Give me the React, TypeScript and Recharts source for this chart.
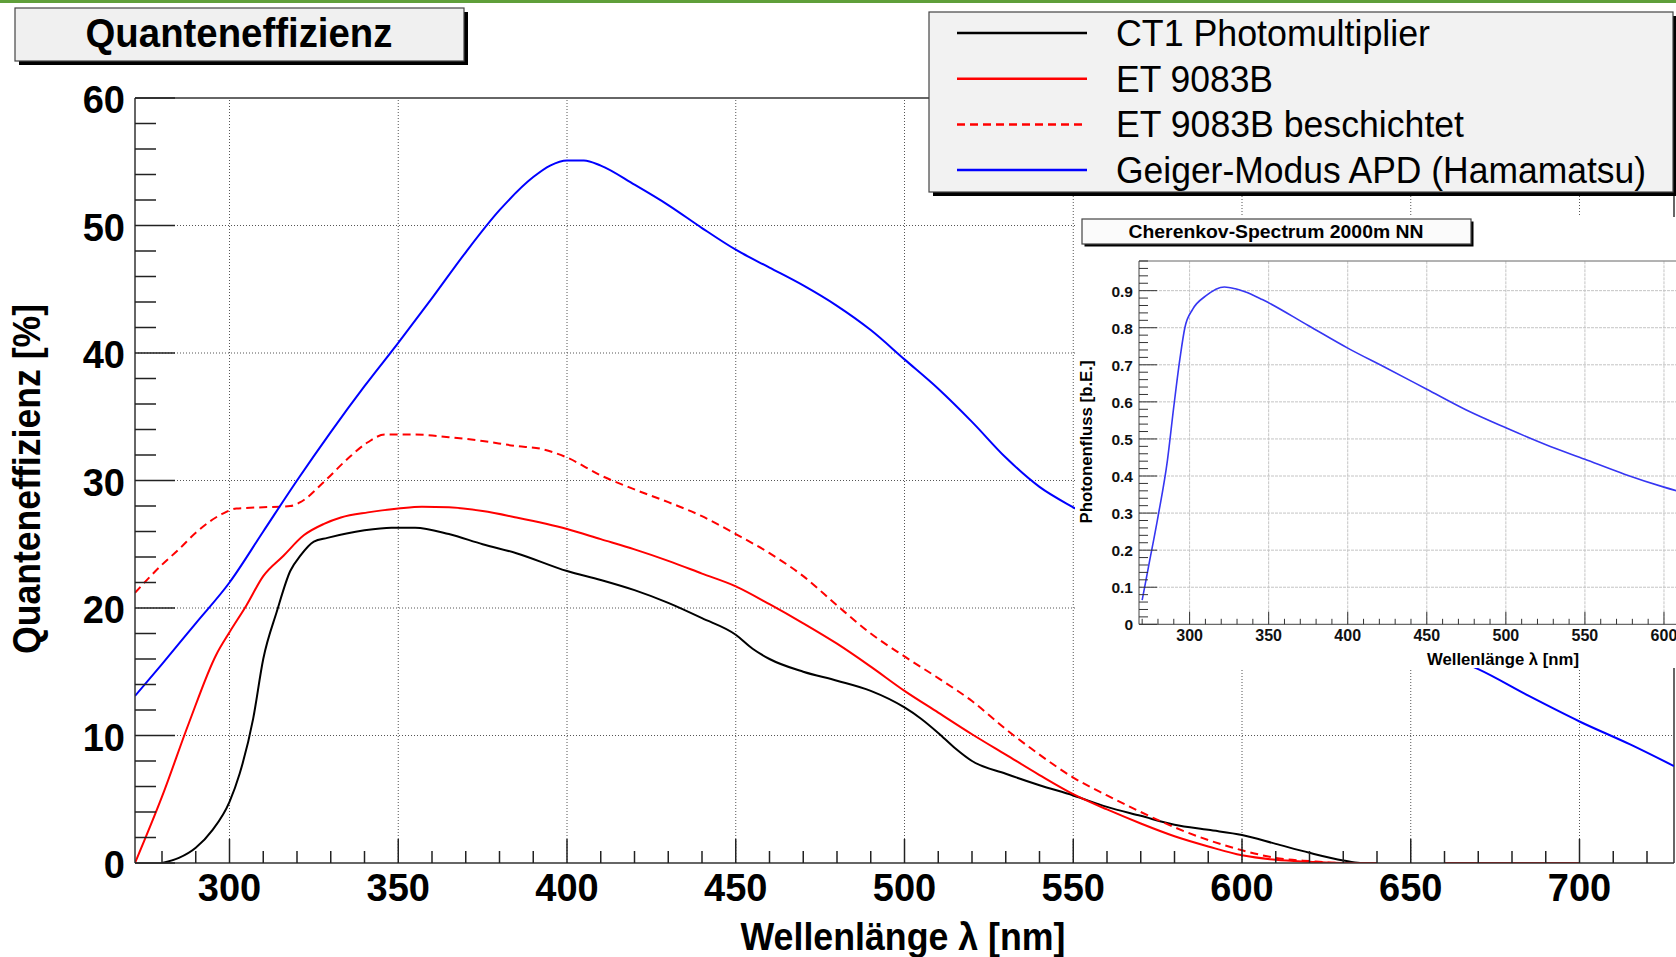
import React from 'react';
import { Line, LineChart, ReferenceLine, XAxis, YAxis } from 'recharts';

const FONT = '"Liberation Sans", Arial, Helvetica, sans-serif';

// Quanteneffizienz [%] gegen Wellenlänge [nm]
const ct1Nm = [280, 285, 290, 295, 300, 303, 307, 310, 314, 318, 321, 325, 329, 340, 348, 355, 365, 375, 385, 400, 410, 420, 430, 440, 450, 455, 460, 470, 480, 490, 500, 505, 510, 515, 520, 530, 540, 550, 560, 570, 580, 590, 600, 610, 620, 630, 635, 640, 650, 660, 700];
const ct1Qe = [0, 0.4, 1.2, 2.6, 4.8, 7.0, 11.3, 16.0, 19.7, 22.9, 24.1, 25.2, 25.5, 26.1, 26.3, 26.3, 25.8, 25.0, 24.3, 22.9, 22.2, 21.4, 20.4, 19.2, 17.9, 16.8, 16.0, 15.0, 14.3, 13.5, 12.2, 11.3, 10.2, 9.0, 8.0, 7.0, 6.1, 5.3, 4.4, 3.7, 3.0, 2.6, 2.2, 1.5, 0.8, 0.2, 0, 0, null, 0, 0];

const etNm = [272, 280, 288, 296, 300, 305, 310, 316, 322, 328, 333, 341, 350, 357, 365, 375, 385, 400, 410, 420, 430, 440, 450, 460, 470, 480, 490, 500, 510, 520, 530, 540, 550, 560, 570, 580, 590, 600, 610, 620, 630, 640, 650, 660, 700];
const etQe = [0, 5.2, 11.0, 16.3, 18.1, 20.2, 22.5, 24.1, 25.7, 26.6, 27.1, 27.5, 27.8, 27.95, 27.9, 27.6, 27.1, 26.2, 25.4, 24.6, 23.7, 22.7, 21.7, 20.3, 18.8, 17.2, 15.4, 13.5, 11.8, 10.1, 8.5, 6.9, 5.4, 4.2, 3.1, 2.1, 1.3, 0.6, 0.25, 0.1, 0, 0, null, 0, 0];

const etCoatedNm = [272, 280, 285, 290, 298, 302, 310, 318, 321, 328, 335, 341, 346, 355, 365, 375, 385, 392, 400, 410, 420, 430, 440, 450, 460, 470, 480, 490, 500, 510, 520, 530, 540, 550, 560, 570, 580, 590, 600, 610, 620, 630, 640, 650, 660, 700];
const etCoatedQe = [21.2, 23.4, 24.6, 25.9, 27.4, 27.8, 27.9, 28.0, 28.3, 29.9, 31.7, 33.0, 33.6, 33.6, 33.4, 33.1, 32.7, 32.5, 31.8, 30.4, 29.3, 28.3, 27.2, 25.8, 24.3, 22.5, 20.2, 18.0, 16.2, 14.5, 12.7, 10.5, 8.5, 6.7, 5.3, 4.0, 2.8, 1.8, 1.0, 0.4, 0.15, 0, 0, null, 0, 0];

const apdNm = [272, 280, 290, 300, 310, 320, 330, 340, 350, 360, 370, 380, 390, 395, 400, 405, 410, 420, 430, 440, 450, 460, 470, 480, 490, 500, 510, 520, 530, 540, 550, 560, 580, 600, 620, 640, 660, 670, 685, 700, 715, 728];
const apdQe = [13.1, 15.6, 18.8, 22.0, 26.0, 30.0, 33.8, 37.4, 40.8, 44.3, 47.9, 51.2, 53.8, 54.7, 55.1, 55.1, 54.7, 53.2, 51.6, 49.8, 48.1, 46.7, 45.3, 43.7, 41.8, 39.5, 37.2, 34.6, 31.8, 29.5, 27.9, 26.5, 23.8, 21.4, 19.5, 17.8, 16.3, 15.2, 13.1, 11.1, 9.3, 7.6];

// Cherenkov-Spektrum (Einsatz)
const cherNm = [270, 274, 280, 286, 290, 294, 297, 302, 310, 322, 329, 335, 346, 375, 400, 425, 450, 475, 500, 525, 550, 575, 600, 625];
const cherFlux = [0.065, 0.155, 0.29, 0.443, 0.587, 0.72, 0.8, 0.85, 0.885, 0.91, 0.905, 0.897, 0.876, 0.806, 0.745, 0.69, 0.634, 0.578, 0.53, 0.485, 0.445, 0.405, 0.37, 0.34];

const xMajor = [300, 350, 400, 450, 500, 550, 600, 650, 700];
const yMajor = [0, 10, 20, 30, 40, 50, 60];
const yGrid = [10, 20, 30, 40, 50];
const insetXMajor = [300, 350, 400, 450, 500, 550, 600];
const insetYMajor = [0, 0.1, 0.2, 0.3, 0.4, 0.5, 0.6, 0.7, 0.8, 0.9];
const insetYLabels = ['0', '0.1', '0.2', '0.3', '0.4', '0.5', '0.6', '0.7', '0.8', '0.9'];

const range = (a: number, b: number, s: number) => {
  const out: number[] = [];
  for (let v = a; v <= b + 1e-9; v += s) out.push(+v.toFixed(3));
  return out;
};
const zip = (xs: number[], ys: (number | null)[]) => xs.map((x, i) => ({ x, y: ys[i] }));

const series = [
  { name: 'CT1 Photomultiplier', color: '#000000', dash: undefined, data: zip(ct1Nm, ct1Qe) },
  { name: 'ET 9083B', color: '#ff0000', dash: undefined, data: zip(etNm, etQe) },
  { name: 'ET 9083B beschichtet', color: '#ff0000', dash: '8 5', data: zip(etCoatedNm, etCoatedQe) },
  { name: 'Geiger-Modus APD (Hamamatsu)', color: '#0000ff', dash: undefined, data: zip(apdNm, apdQe) },
];
const legendWidths = [314, 157, 348, 530];

const isMajor = (v: number, list: number[]) => list.some((m) => Math.abs(m - v) < 1e-6);

function MainXTick(p: any) {
  const v = p.payload.value;
  const major = isMajor(v, xMajor);
  return (
    <g>
      <line x1={p.x} x2={p.x} y1={p.y} y2={p.y - (major ? 24 : 12)} stroke="#222" strokeWidth={1.5} />
      {major && (
        <text x={p.x} y={p.y + 38} textAnchor="middle" fontFamily={FONT} fontWeight="bold" fontSize={38} fill="#000">
          {v}
        </text>
      )}
    </g>
  );
}

function MainYTick(p: any) {
  const v = p.payload.value;
  const major = isMajor(v, yMajor);
  return (
    <g>
      <line x1={p.x} x2={p.x + (major ? 40 : 21)} y1={p.y} y2={p.y} stroke="#222" strokeWidth={1.5} />
      {major && (
        <text x={p.x - 10} y={p.y + 15} textAnchor="end" fontFamily={FONT} fontWeight="bold" fontSize={38} fill="#000">
          {v}
        </text>
      )}
    </g>
  );
}

function InsetXTick(p: any) {
  const v = p.payload.value;
  const major = isMajor(v, insetXMajor);
  return (
    <g>
      <line x1={p.x} x2={p.x} y1={p.y} y2={p.y - (major ? 12.5 : 5.5)} stroke="#333" strokeWidth={1} />
      {major && (
        <text x={p.x} y={p.y + 17} textAnchor="middle" fontFamily={FONT} fontWeight="bold" fontSize={16} fill="#111">
          {v}
        </text>
      )}
    </g>
  );
}

function InsetYTick(p: any) {
  const v = p.payload.value;
  const idx = insetYMajor.findIndex((m) => Math.abs(m - v) < 1e-6);
  const major = idx >= 0;
  return (
    <g>
      <line x1={p.x} x2={p.x + (major ? 18 : 9)} y1={p.y} y2={p.y} stroke="#333" strokeWidth={1} />
      {major && (
        <text x={p.x - 6} y={p.y + 6} textAnchor="end" fontFamily={FONT} fontWeight="bold" fontSize={15.5} fill="#111">
          {insetYLabels[idx]}
        </text>
      )}
    </g>
  );
}

function Box({ x, y, w, h, shadow, fill }: { x: number; y: number; w: number; h: number; shadow: number; fill: string }) {
  return (
    <g>
      <rect x={x + shadow} y={y + shadow} width={w} height={h} fill="#000" />
      <rect x={x} y={y} width={w} height={h} fill={fill} stroke="#444" strokeWidth={1.2} />
    </g>
  );
}

export default function App() {
  return (
    <div
      style={{
        position: 'absolute',
        left: 0,
        top: 0,
        width: 1676,
        height: 957,
        overflow: 'hidden',
        background: '#fff',
        fontFamily: FONT,
      }}
    >
      <div style={{ position: 'absolute', left: 0, top: 0, width: 1676, height: 2.5, background: '#5f9f3a' }} />

      <div style={{ position: 'absolute', left: 0, top: 0 }}>
        <LineChart width={1676} height={957} margin={{ top: 98, right: 2, left: 0, bottom: 0 }}>
          <XAxis
            dataKey="x"
            type="number"
            domain={[272, 728]}
            allowDataOverflow
            ticks={range(280, 720, 10)}
            interval={0}
            height={94}
            tickSize={0}
            tickMargin={0}
            tickLine={false}
            axisLine={{ stroke: '#333', strokeWidth: 1.5 }}
            tick={(p: any) => <MainXTick {...p} />}
          />
          <YAxis
            type="number"
            domain={[0, 60]}
            allowDataOverflow
            ticks={range(0, 60, 2)}
            interval={0}
            width={135}
            tickSize={0}
            tickMargin={0}
            tickLine={false}
            axisLine={{ stroke: '#333', strokeWidth: 1.5 }}
            tick={(p: any) => <MainYTick {...p} />}
          />
          {xMajor.map((v) => (
            <ReferenceLine key={'gx' + v} x={v} stroke="#555" strokeWidth={1} strokeDasharray="1 2" />
          ))}
          {yGrid.map((v) => (
            <ReferenceLine key={'gy' + v} y={v} stroke="#555" strokeWidth={1} strokeDasharray="1 2" />
          ))}
          <ReferenceLine y={60} stroke="#333" strokeWidth={1.5} />
          <ReferenceLine x={728} stroke="#333" strokeWidth={1.5} />
          {series.map((s) => (
            <Line
              key={s.name}
              data={s.data}
              dataKey="y"
              type="monotone"
              stroke={s.color}
              strokeWidth={2}
              strokeDasharray={s.dash}
              dot={false}
              activeDot={false}
              connectNulls={false}
              isAnimationActive={false}
            />
          ))}
        </LineChart>
      </div>

      {/* Einsatz: Cherenkov-Spektrum */}
      <div style={{ position: 'absolute', left: 1075, top: 217, width: 640, height: 451, background: '#fff' }}>
        <LineChart width={640} height={451} margin={{ top: 44, right: 11.5, left: 0, bottom: 0 }}>
          <XAxis
            dataKey="x"
            type="number"
            domain={[268, 625]}
            allowDataOverflow
            ticks={range(270, 620, 10)}
            interval={0}
            height={43.7}
            tickSize={0}
            tickMargin={0}
            tickLine={false}
            axisLine={{ stroke: '#444', strokeWidth: 1 }}
            tick={(p: any) => <InsetXTick {...p} />}
          />
          <YAxis
            type="number"
            domain={[0, 0.98]}
            allowDataOverflow
            ticks={range(0, 0.98, 0.02)}
            interval={0}
            width={64}
            tickSize={0}
            tickMargin={0}
            tickLine={false}
            axisLine={{ stroke: '#444', strokeWidth: 1 }}
            tick={(p: any) => <InsetYTick {...p} />}
          />
          {insetXMajor.map((v) => (
            <ReferenceLine key={'ix' + v} x={v} stroke="#c4c4c4" strokeWidth={1} strokeDasharray="3 1" />
          ))}
          {insetYMajor.slice(1).map((v) => (
            <ReferenceLine key={'iy' + v} y={v} stroke="#c4c4c4" strokeWidth={1} strokeDasharray="3 1" />
          ))}
          <ReferenceLine y={0.98} stroke="#666" strokeWidth={1} />
          <Line
            data={zip(cherNm, cherFlux)}
            dataKey="y"
            type="monotone"
            stroke="#3636f2"
            strokeWidth={1.6}
            dot={false}
            activeDot={false}
            isAnimationActive={false}
          />
        </LineChart>
      </div>

      <svg width={1676} height={957} style={{ position: 'absolute', left: 0, top: 0, pointerEvents: 'none' }}>
        {/* Titel */}
        <Box x={15} y={8} w={449} h={53} shadow={4} fill="#f0f0f0" />
        <text x={239} y={47} textAnchor="middle" fontFamily={FONT} fontWeight="bold" fontSize={40} textLength={307} lengthAdjust="spacingAndGlyphs">
          Quanteneffizienz
        </text>

        {/* Legende */}
        <Box x={929} y={12} w={744} h={180} shadow={4} fill="#f2f2f2" />
        {series.map((s, i) => {
          const cy = 33 + i * 45.7;
          return (
            <g key={s.name}>
              <line x1={957} x2={1087} y1={cy} y2={cy} stroke={s.color} strokeWidth={2.5} strokeDasharray={s.dash} />
              <text x={1116} y={cy + 13} fontFamily={FONT} fontSize={37} textLength={legendWidths[i]} lengthAdjust="spacingAndGlyphs">
                {s.name}
              </text>
            </g>
          );
        })}

        {/* Achsentitel */}
        <text x={903} y={950} textAnchor="middle" fontFamily={FONT} fontWeight="bold" fontSize={39} textLength={325} lengthAdjust="spacingAndGlyphs">
          Wellenlänge λ [nm]
        </text>
        <text
          x={40}
          y={479}
          transform="rotate(-90 40 479)"
          textAnchor="middle"
          fontFamily={FONT}
          fontWeight="bold"
          fontSize={38}
          textLength={350}
          lengthAdjust="spacingAndGlyphs"
        >
          Quanteneffizienz [%]
        </text>

        {/* Einsatz-Titel und Achsentitel */}
        <Box x={1082} y={219} w={389} h={25} shadow={2.5} fill="#fbfbfb" />
        <text x={1276} y={237.5} textAnchor="middle" fontFamily={FONT} fontWeight="bold" fontSize={19} textLength={295} lengthAdjust="spacingAndGlyphs">
          Cherenkov-Spectrum 2000m NN
        </text>
        <text x={1503} y={665} textAnchor="middle" fontFamily={FONT} fontWeight="bold" fontSize={16.5} textLength={152} lengthAdjust="spacingAndGlyphs">
          Wellenlänge λ [nm]
        </text>
        <text
          x={1092}
          y={442}
          transform="rotate(-90 1092 442)"
          textAnchor="middle"
          fontFamily={FONT}
          fontWeight="bold"
          fontSize={16.5}
          textLength={163}
          lengthAdjust="spacingAndGlyphs"
        >
          Photonenfluss [b.E.]
        </text>
      </svg>
    </div>
  );
}
